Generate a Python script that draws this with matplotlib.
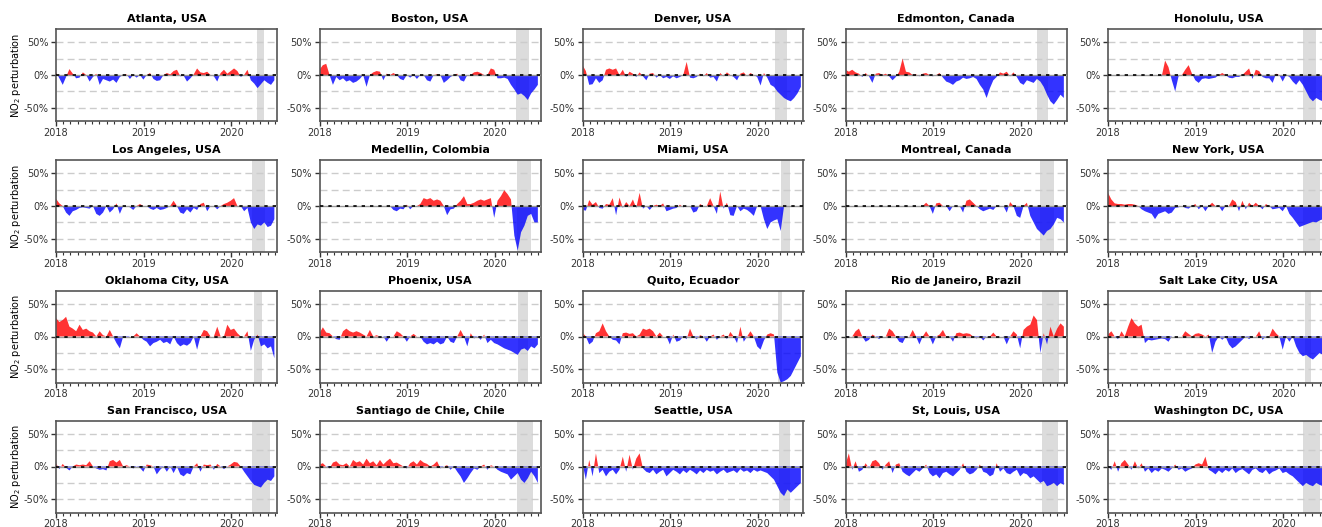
import numpy as np
import pandas as pd
import matplotlib
matplotlib.use('Agg')
import matplotlib.pyplot as plt
import matplotlib.dates as mdates
from matplotlib.ticker import FuncFormatter

# NO2 perturbation (%), one value every 14 days starting 2018-01-01
atlanta = [4, -5, -15, -3, 9, 2, -5, -4, 4, 0, -10, -3, 2, -15, -6, -8, -10, -7, -12, -3,
           0, 1, -6, 0, -4, 0, -7, 0, 3, -6, -9, -8, 0, 3, 1, 6, 8, -2, -1, -10,
           -5, 1, 10, 4, 3, 5, 0, -2, -10, 3, 8, 2, 6, 10, 6, -3, 0, 8, -8, -13,
           -20, -14, -8, -12, -15, -8]
boston = [8, 15, 17, 0, -15, -3, -8, -5, -10, -8, -12, -10, -6, 0, -18, 0, 4, 6, 5, -8,
          2, 0, 3, 0, -6, -8, 0, -4, 0, -6, 0, 0, -8, -10, 0, 1, 0, -12, -8, -3,
          0, 2, -8, -10, 0, 0, 4, 5, 3, 0, 0, 10, 8, -5, -5, -4, -6, -15, -22, -30,
          -28, -32, -38, -28, -22, -15]
denver = [15, 6, -15, -14, -5, -12, -8, 8, 10, 8, 10, 0, 8, -3, 5, 2, -3, 4, -2, -8,
          2, 3, -4, 0, -5, -3, -6, -2, -5, -3, 0, 20, -4, -5, -3, 2, -2, 3, -4, -3,
          -10, 3, -2, 4, 0, -3, -8, 2, 4, -2, 3, 0, -3, -16, 3, -4, -15, -18, -25, -30,
          -35, -38, -40, -35, -28, -18]
edmonton = [8, 5, 8, 4, 2, -3, 3, -2, -12, 2, 3, 0, 2, -2, -8, -3, 5, 25, 5, 4,
            0, 1, -2, 2, 3, 0, -2, 0, 3, -4, -10, -12, -15, -10, -8, -4, -6, -5, -3, -6,
            -15, -22, -35, -20, -8, -3, 4, 2, 5, -2, 4, -3, -12, -15, -8, -10, -12, -6, -10, -18,
            -30, -40, -45, -38, -30, -35]
honolulu = [0, 0, 0, 0, 0, 0, 0, 0, 0, 0, 0, 0, 0, 0, 0, 0, -2, 22, 12, -8,
            -25, -2, 0, 8, 15, 2, -8, -12, -6, -5, -6, -5, -4, 0, 3, 0, -4, -5, -3, -3,
            0, 5, 10, -6, 8, 6, -3, -5, -5, -12, 2, 0, -10, 0, -3, -10, -15, -8, -15, -25,
            -35, -40, -35, -38, -40, -38]
los_angeles = [11, 4, 0, -10, -15, -8, -6, -3, -2, -3, -4, 0, -12, -15, -10, 0, -10, -5, 4, -12,
               0, 0, -2, -6, 0, 3, 0, 0, -4, -6, -3, -6, -5, -3, 0, 8, 0, -10, -12, -5,
               -10, -3, -6, 3, 5, -8, 0, 0, -5, 0, 3, 5, 8, 12, 0, 0, -8, -3, -25, -35,
               -28, -30, -25, -32, -30, -20]
medellin = [0, 0, 0, 0, 0, 0, 0, 0, 0, 0, 0, 0, 0, 0, 0, 0, 0, 0, 0, 0,
            0, 0, -6, -8, -4, -5, 2, -5, 0, 0, 3, 12, 10, 12, 8, 10, 8, 0, -14, -5,
            -4, 3, 8, 15, 3, 3, 5, 8, 10, 8, 10, 12, -18, 8, 15, 24, 18, 10, -45, -68,
            -40, -30, -15, -12, -25, -25]
miami = [-6, -7, 9, 2, 6, -3, -4, 3, 2, 12, -14, 13, -3, 6, 0, 10, -3, 20, -4, 0,
         -6, 0, 2, 0, 4, -8, -6, -4, -3, 2, -2, 0, 0, -10, -8, 3, 0, 0, 12, 0,
         -12, 22, -4, 5, -14, -15, 0, -8, -4, -6, -10, -15, 0, 0, -20, -35, -25, -22, -20, -38,
         0, 0, 0, 0, 0, 0]
montreal = [0, 0, 0, 0, 0, 0, 0, 0, 0, 0, 0, 0, 0, 0, 0, 0, 0, 0, 0, 0,
            0, 0, 0, 0, 5, 0, -12, 4, 5, 0, 0, -8, 0, 0, 0, -10, 8, 10, 5, 0,
            -5, -8, -6, -4, -6, 0, 0, 0, -10, 6, 0, -15, -18, 0, 5, -15, -25, -35, -40, -45,
            -38, -35, -28, -18, -20, -25]
new_york = [20, 10, 4, 3, 3, 2, 3, 3, 2, 0, -5, -8, -10, -12, -20, -12, -10, -8, -12, -10,
            -3, -2, 0, -3, -4, 0, 3, -5, 0, -8, 0, 5, 0, 0, -8, 0, 0, 10, 6, -8,
            8, -5, 5, 0, 5, 0, -5, 3, 0, -5, -4, -3, -8, 0, -12, -18, -25, -32, -30, -28,
            -26, -24, -25, -22, -20, -18]
oklahoma = [28, 22, 25, 30, 15, 12, 8, 18, 10, 12, 8, 6, 0, 8, 2, 0, 10, 0, -10, -18,
            0, -2, 0, 0, 5, 0, -5, -8, -15, -10, -8, -5, -10, -8, -12, 0, -10, -15, -12, -14,
            -10, 0, -20, 0, 10, 8, 0, 0, 15, 0, 0, 18, 10, 12, 5, 0, 0, 8, -22, -5,
            3, -15, -12, -18, -15, -33]
phoenix = [5, 14, 6, 5, 0, -4, -5, 8, 12, 8, 6, 8, 6, 3, 0, 10, 0, 2, 0, 0,
           -8, 0, 0, 8, 5, 0, -8, 0, 4, 0, 0, -8, -12, -10, -12, -8, -12, -10, 0, -8,
           -10, 0, 10, 0, -15, 5, -3, 0, -5, 3, -10, -5, -10, -12, -15, -18, -20, -22, -25, -28,
           -20, -18, -22, -15, -18, -12]
quito = [6, 0, -12, -8, 5, 8, 20, 8, 0, -5, -6, -12, 5, 6, 4, 5, 0, 3, 12, 10,
         12, 8, 0, 6, 0, 0, -12, 3, -8, -6, 0, -4, 12, 0, -4, 2, 0, -8, 0, 3,
         -5, 0, 3, -4, 7, 0, -10, 15, -8, 0, 8, 0, -15, -20, -6, 3, 5, 3, -55, -70,
         -68, -65, -60, -50, -40, -30]
rio = [-3, 0, 0, 8, 12, 0, -8, -5, 3, 0, -4, 0, 0, 12, 8, 0, -8, -10, 0, 0,
       10, 0, -12, 0, 8, 0, -12, 0, 3, 10, 0, 0, -8, 5, 6, 4, 5, 4, 0, -3,
       0, -6, 0, 0, 6, 0, 0, 0, -12, 0, 8, 3, -18, 10, 15, 18, 32, 25, -25, 5,
       -12, 15, 0, 12, 20, 15]
salt_lake = [3, 8, 0, -4, 8, 0, 15, 28, 20, 15, 18, -10, -5, -6, -5, -4, -3, -4, -8, 0,
             0, 0, 0, 8, 4, 0, 4, 5, 3, 0, 3, -25, -8, 0, -5, 0, -12, -18, -15, -10,
             -5, 0, -4, 0, 0, 8, -5, 0, 0, 12, 5, 0, -20, 0, -8, 0, -15, -25, -30, -28,
             -32, -35, -30, -25, -28, -20]
san_francisco = [5, -4, 4, -2, -6, 0, 3, 2, 3, 2, 8, 0, -3, -5, -4, -6, 8, 10, 6, 10,
                 0, 2, 0, -3, 0, -2, -8, 3, 2, 0, -12, -5, 0, -8, 0, -10, 0, -12, -15, -10,
                 -12, 0, 5, -8, 3, 2, 3, -5, 4, 0, -4, 0, 3, 7, 6, 0, -8, -15, -22, -28,
                 -30, -32, -25, -20, -22, -15]
santiago = [3, 5, 0, -3, 6, 8, 3, 2, 5, 0, 10, 6, 8, 3, 12, 5, 8, 2, 10, 3,
            8, 12, 5, 6, 3, 0, -3, 5, 8, 3, 10, 6, 4, 0, 3, 8, -3, 0, 2, -5,
            0, -8, -15, -25, -18, -10, -3, -5, 0, 3, -5, 2, 0, -5, -8, -10, -12, -20, -15, -10,
            -20, -25, -18, -8, -15, -25]
seattle = [5, -20, 10, -15, 20, -10, -5, -15, -8, -5, -12, -5, 15, -8, 18, -5, 12, 20, -3, -8,
           -10, -5, -12, -8, -5, -15, -10, -5, -8, -12, -6, -10, -5, -8, -12, -6, -10, -5, -8, -6,
           -12, -8, -5, -10, -8, -6, -10, -4, -8, -6, -10, -5, -8, -6, -8, -10, -15, -20, -30, -40,
           -45, -35, -40, -35, -30, -25]
st_louis = [3, 20, -5, 8, -8, -5, 5, -3, 8, 10, 5, -5, 3, 8, -10, 3, 5, -8, -12, -15,
            -10, -5, -8, -3, 3, -10, -15, -12, -18, -10, -8, -12, -15, -10, -5, 5, -8, -12, -10, -5,
            3, -8, -10, -15, -12, 5, -8, -3, -10, -12, -8, -5, -15, -10, -12, -18, -15, -20, -25, -22,
            -30, -28, -25, -30, -25, -28]
washington = [0, -5, 8, -8, 5, 10, 3, -5, 8, -3, 5, -8, -3, -10, -5, -8, -3, -5, -8, -3,
              3, -5, -3, -8, -5, -3, 3, 5, 3, 15, -5, -8, -12, -6, -10, -5, -8, -3, -10, -6,
              -4, -8, -12, -5, -3, -8, -10, -5, -12, -8, -6, -3, -10, -8, -12, -15, -20, -25, -30, -25,
              -28, -30, -25, -28, -30, -22]

cities = ['Atlanta, USA', 'Boston, USA', 'Denver, USA', 'Edmonton, Canada', 'Honolulu, USA',
          'Los Angeles, USA', 'Medellin, Colombia', 'Miami, USA', 'Montreal, Canada', 'New York, USA',
          'Oklahoma City, USA', 'Phoenix, USA', 'Quito, Ecuador', 'Rio de Janeiro, Brazil', 'Salt Lake City, USA',
          'San Francisco, USA', 'Santiago de Chile, Chile', 'Seattle, USA', 'St, Louis, USA', 'Washington DC, USA']
series = [atlanta, boston, denver, edmonton, honolulu,
          los_angeles, medellin, miami, montreal, new_york,
          oklahoma, phoenix, quito, rio, salt_lake,
          san_francisco, santiago, seattle, st_louis, washington]
# lockdown period shading
span_start = ['2020-04-19', '2020-03-29', '2020-03-12', '2020-03-08', '2020-03-25',
              '2020-03-29', '2020-04-02', '2020-04-06', '2020-03-21', '2020-03-25',
              '2020-04-06', '2020-04-06', '2020-03-25', '2020-03-29', '2020-04-02',
              '2020-03-29', '2020-04-02', '2020-03-29', '2020-03-29', '2020-03-25']
span_end = ['2020-05-18', '2020-05-22', '2020-05-01', '2020-04-23', '2020-05-18',
            '2020-05-22', '2020-05-31', '2020-05-14', '2020-05-18', '2020-06-04',
            '2020-05-10', '2020-05-18', '2020-04-11', '2020-06-08', '2020-04-27',
            '2020-06-12', '2020-06-08', '2020-05-14', '2020-06-04', '2020-06-04']

W, H = 1322, 527
fig = plt.figure(figsize=(W / 100, H / 100), dpi=100)
lefts = [56, 319.5, 582.5, 845.5, 1108]
tops = [29, 160, 290.5, 420.5]
aw, ah = 221, 92

for i, (name, vals) in enumerate(zip(cities, series)):
    r, c = divmod(i, 5)
    ax = fig.add_axes([lefts[c] / W, 1 - (tops[r] + ah) / H, aw / W, ah / H])
    v = np.array(vals, dtype=float)
    d = pd.date_range('2018-01-01', periods=len(v), freq='14D')
    ax.axvspan(pd.Timestamp(span_start[i]), pd.Timestamp(span_end[i]), color='#dcdcdc', lw=0, zorder=0)
    for yy in (-50, -25, 25, 50):
        ax.axhline(yy, color='#cccccc', ls='--', lw=1, dashes=(5, 3), zorder=1)
    ax.fill_between(d, 0, v, where=v > 0, interpolate=True, color='red', alpha=0.8, lw=0, zorder=2)
    ax.fill_between(d, 0, v, where=v < 0, interpolate=True, color='blue', alpha=0.8, lw=0, zorder=2)
    ax.axhline(0, color='#999999', lw=1, zorder=3)
    ax.axhline(0, color='black', lw=1.2, dashes=(2, 3), zorder=4)

    ax.set_xlim(pd.Timestamp('2018-01-01'), pd.Timestamp('2020-07-10'))
    ax.set_ylim(-70, 70)
    ax.set_yticks([-50, 0, 50])
    ax.yaxis.set_major_formatter(FuncFormatter(lambda y, _: f'{y:.0f}%'))
    ax.xaxis.set_major_locator(mdates.YearLocator())
    ax.xaxis.set_minor_locator(mdates.MonthLocator())
    ax.xaxis.set_major_formatter(mdates.DateFormatter('%Y'))
    ax.tick_params(axis='both', which='major', labelsize=7, length=3.5, width=1, colors='#333333', pad=2)
    ax.tick_params(axis='x', which='major', pad=1.5)
    ax.tick_params(axis='x', which='minor', length=2, width=0.8, colors='#333333')
    for s in ax.spines.values():
        s.set_color('#555555')
        s.set_linewidth(1.2)
    ax.set_title(name, fontsize=8, fontweight='bold', pad=5)
    if c == 0:
        ax.set_ylabel('NO$_2$ perturbation', fontsize=7, labelpad=0)

fig.savefig('out.png', dpi=100)
